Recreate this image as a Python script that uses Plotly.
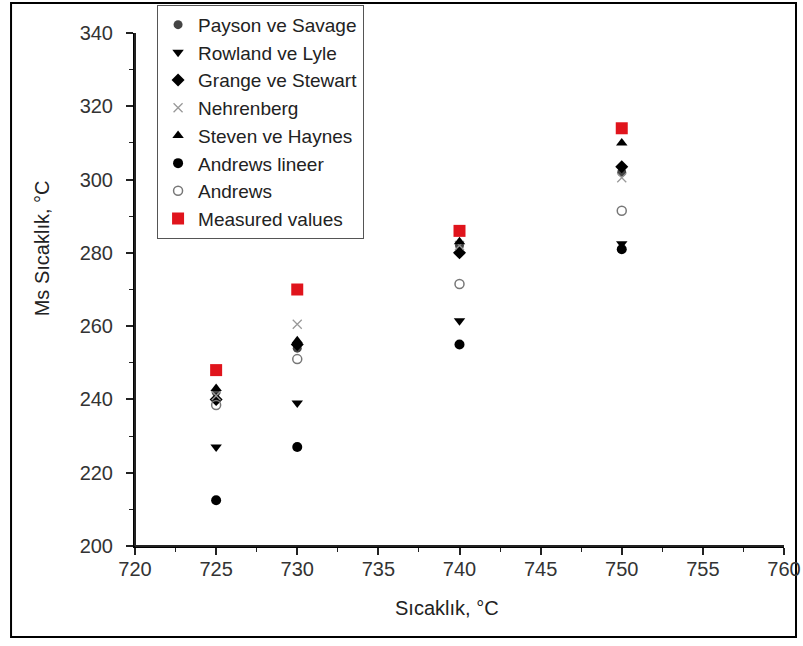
import plotly.graph_objects as go

# Annealing temperatures (°C)
temps = [725, 730, 740, 750]

# Predicted and measured Ms temperatures (°C)
payson_savage = [242, 254, 282, 302]
rowland_lyle = [227, 239, 261.5, 282.5]
grange_stewart = [240, 255, 280, 303.5]
nehrenberg = [241, 260.5, 282, 300.5]
steven_haynes = [243, 256, 283, 310]
andrews_lineer = [212.5, 227, 255, 281]
andrews = [238.5, 251, 271.5, 291.5]
measured = [248, 270, 286, 314]

series = [
    ("Payson ve Savage", payson_savage, "circle", "#444444", 9, None),
    ("Rowland ve Lyle", rowland_lyle, "triangle-down", "black", 10, None),
    ("Grange ve Stewart", grange_stewart, "diamond", "black", 10, None),
    ("Nehrenberg", nehrenberg, "x-thin-open", "#999999", 9, 1.3),
    ("Steven ve Haynes", steven_haynes, "triangle-up", "black", 10, None),
    ("Andrews lineer", andrews_lineer, "circle", "black", 10, None),
    ("Andrews", andrews, "circle-open", "#777777", 9, 1.5),
    ("Measured values", measured, "square", "#e0141c", 12, None),
]

FONT = "Liberation Sans, Arial, sans-serif"

fig = go.Figure()
for name, vals, sym, col, size, lw in series:
    marker = dict(symbol=sym, color=col, size=size)
    if lw is not None:
        marker["line"] = dict(color=col, width=lw)
    else:
        marker["line"] = dict(width=0)
    fig.add_trace(go.Scatter(x=temps, y=vals, mode="markers", name=name, marker=marker,
                             cliponaxis=False))

axis_common = dict(
    showgrid=False,
    zeroline=False,
    showline=True,
    linecolor="black",
    linewidth=2,
    ticks="outside",
    ticklen=7,
    tickwidth=1.5,
    tickcolor="#222222",
    tickfont=dict(family=FONT, size=20, color="#333333"),
    mirror=False,
)

fig.update_xaxes(
    range=[720, 760],
    dtick=5,
    ticklabelstandoff=-3,
    minor=dict(dtick=2.5, ticks="outside", ticklen=4, tickcolor="#222222", tickwidth=1.2),
    **axis_common,
)
fig.update_yaxes(
    range=[200, 340],
    dtick=20,
    ticklabelstandoff=9,
    minor=dict(dtick=10, ticks="outside", ticklen=4, tickcolor="#222222", tickwidth=1.2),
    **axis_common,
)

title_font = dict(family=FONT, size=20, color="#222222")

fig.update_layout(
    width=803,
    height=646,
    margin=dict(l=135, r=19, t=33, b=100, autoexpand=False),
    paper_bgcolor="white",
    plot_bgcolor="white",
    showlegend=True,
    legend=dict(
        x=0.034,
        y=1.055,
        xanchor="left",
        yanchor="top",
        bgcolor="white",
        bordercolor="#555555",
        borderwidth=1,
        font=dict(family=FONT, size=19, color="#222222"),
        tracegroupgap=0,
        itemwidth=30,
    ),
    annotations=[
        dict(
            text="Sıcaklık, °C",
            xref="paper",
            yref="paper",
            x=0.48,
            y=-0.121,
            xanchor="center",
            yanchor="middle",
            showarrow=False,
            font=title_font,
        ),
        dict(
            text="Ms Sıcaklık, °C",
            xref="paper",
            yref="paper",
            x=-0.142,
            y=0.58,
            xanchor="center",
            yanchor="middle",
            textangle=-90,
            showarrow=False,
            font=title_font,
        ),
    ],
    shapes=[
        # frame around the whole figure
        dict(
            type="rect",
            xref="paper",
            yref="paper",
            x0=-0.191,
            x1=1.0185,
            y0=-0.1774,
            y1=1.0585,
            line=dict(color="black", width=2),
            fillcolor="rgba(0,0,0,0)",
            layer="below",
        ),
        # solid left and bottom axis lines
        dict(type="line", xref="paper", yref="paper", x0=0, x1=0, y0=0, y1=1,
             line=dict(color="#222222", width=2), layer="above"),
        dict(type="line", xref="paper", yref="paper", x0=0, x1=1, y0=0, y1=0,
             line=dict(color="#222222", width=2), layer="above"),
    ],
)

fig.write_html("out.html")
